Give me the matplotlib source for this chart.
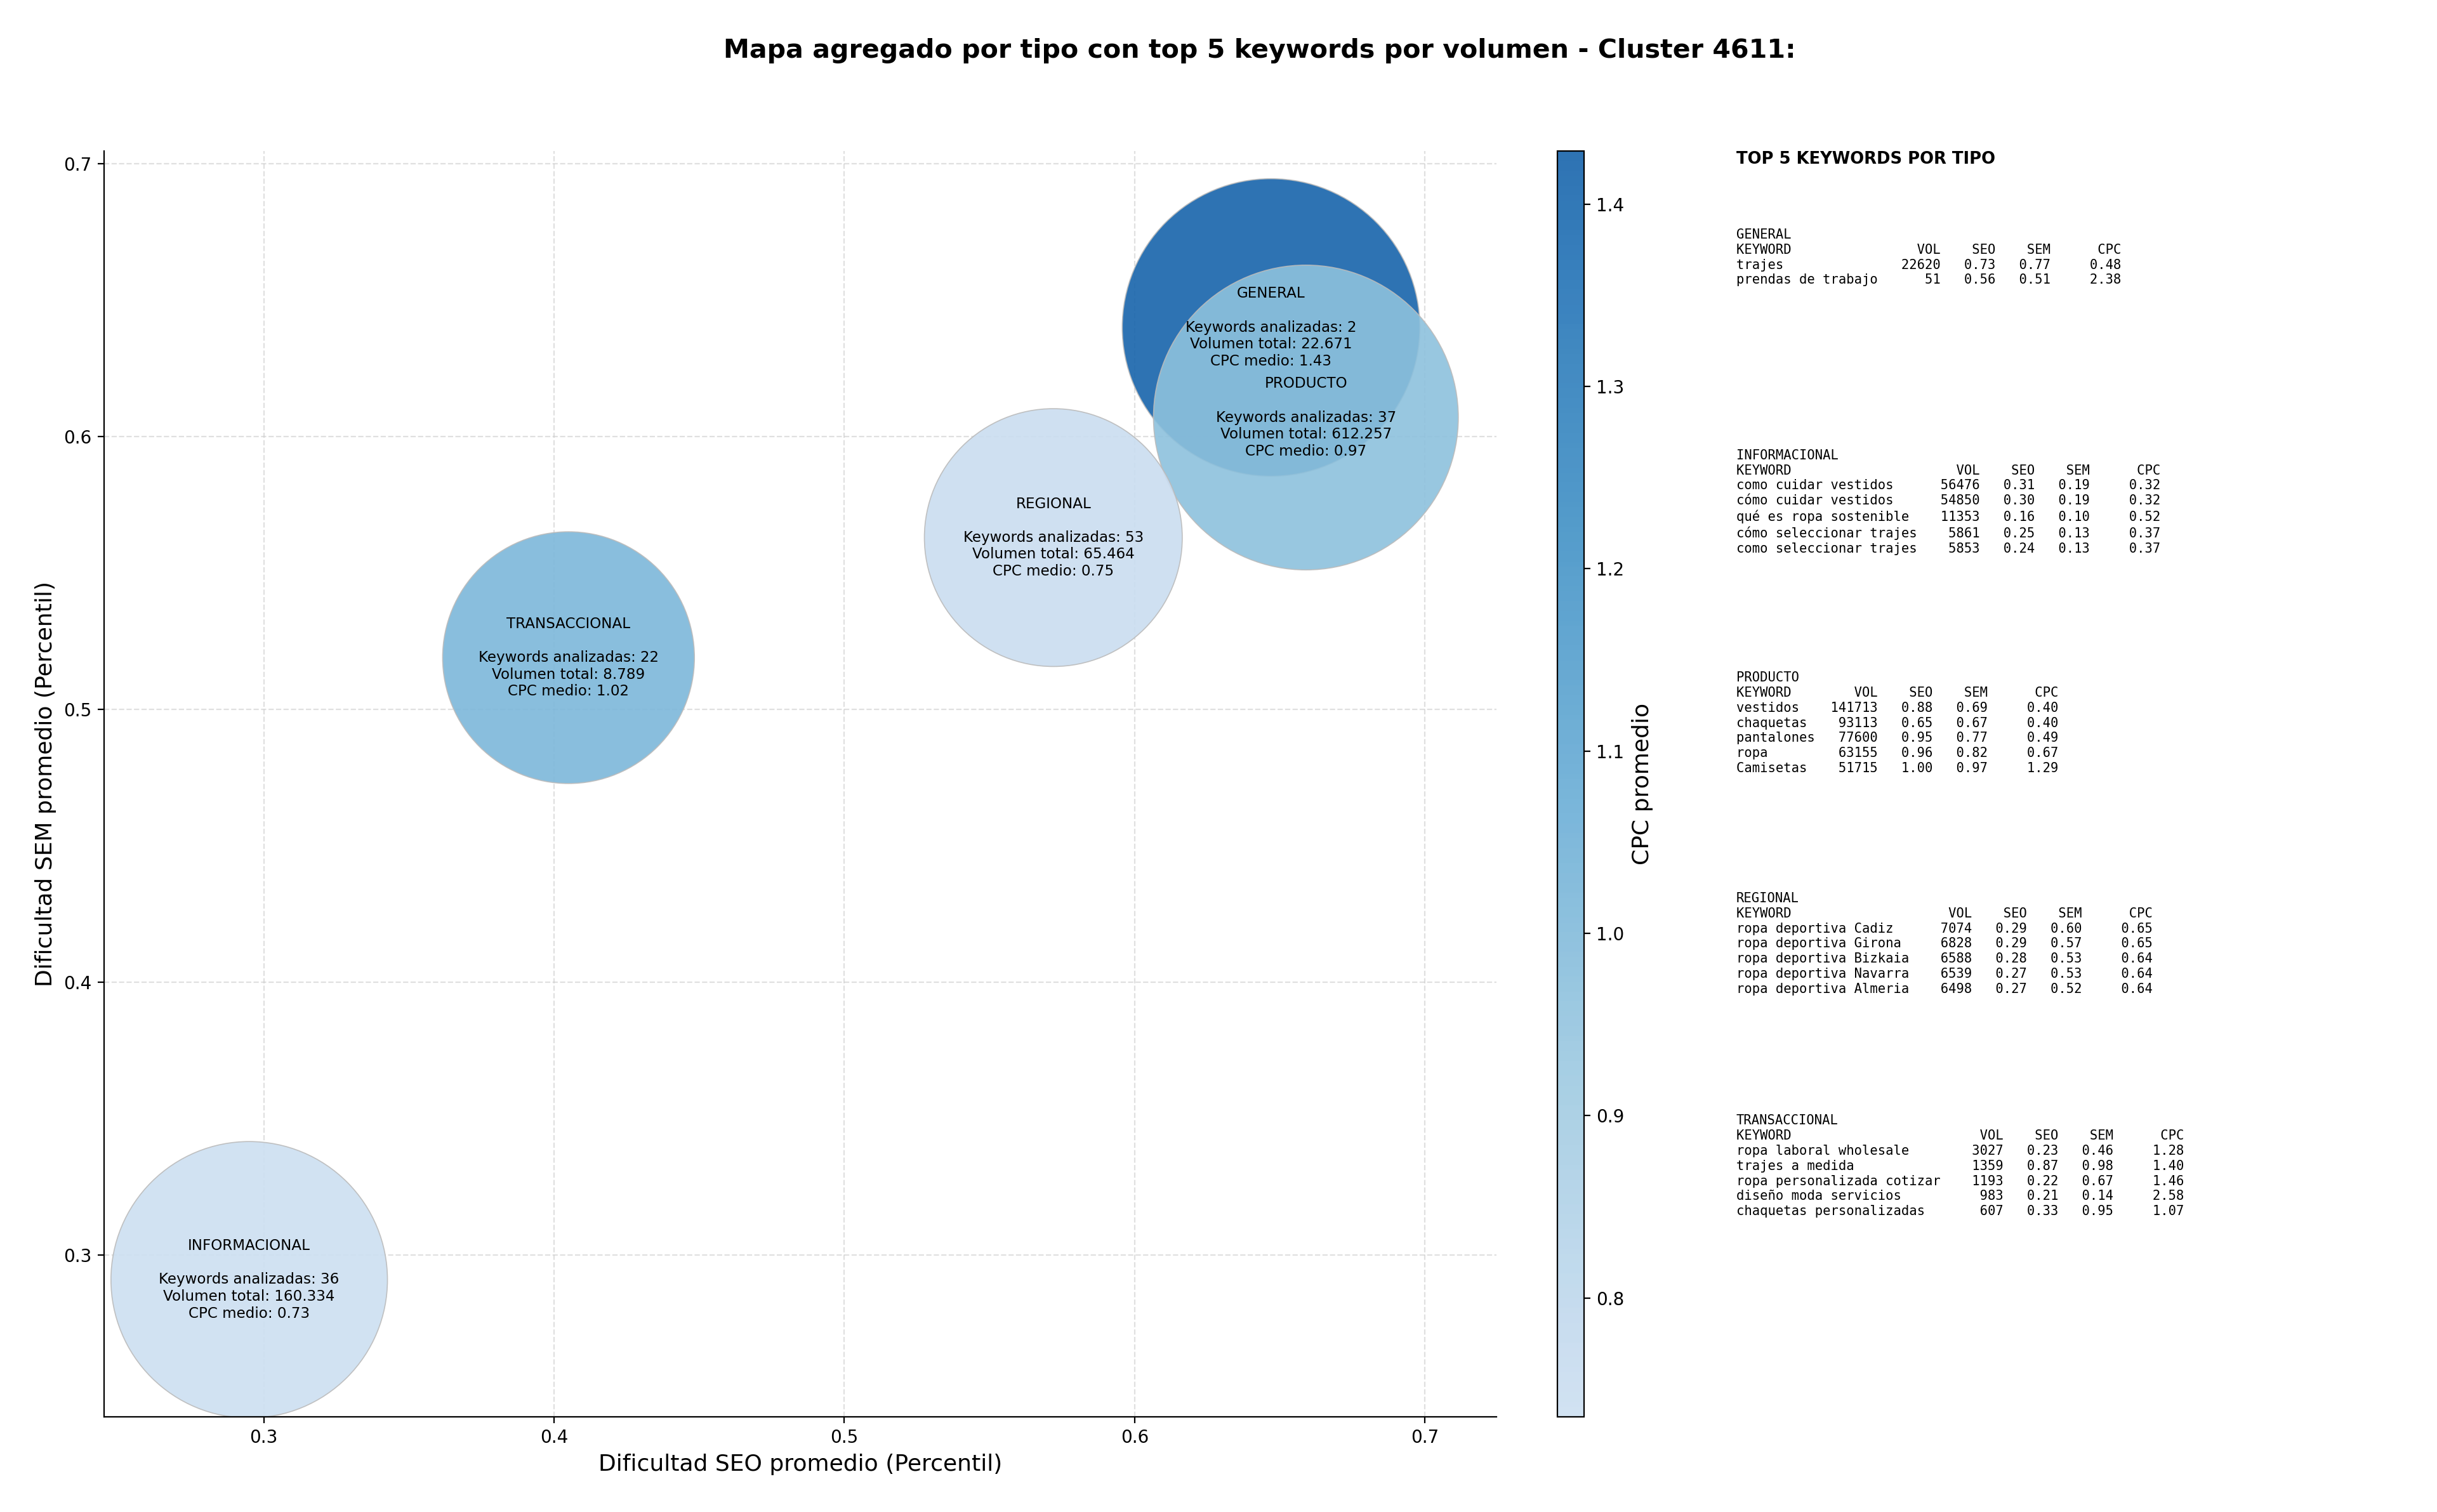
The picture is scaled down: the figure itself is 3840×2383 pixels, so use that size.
import numpy as np
import matplotlib
matplotlib.use('Agg')
import matplotlib.pyplot as plt
from matplotlib.colors import ListedColormap

# Datos agregados por tipo
tipos = ['GENERAL', 'INFORMACIONAL', 'PRODUCTO', 'REGIONAL', 'TRANSACCIONAL']
seo_medio = [0.647, 0.295, 0.659, 0.572, 0.405]
sem_medio = [0.640, 0.291, 0.607, 0.563, 0.519]
n_keywords = [2, 36, 37, 53, 22]
volumen_total = [22671, 160334, 612257, 65464, 8789]
cpc_medio = [1.429, 0.7348, 0.97, 0.75, 1.02]
tam_burbuja = [28500, 24600, 29900, 21400, 20400]

# Top 5 keywords por tipo
top_keywords = {
    'GENERAL': ['trajes', 'prendas de trabajo'],
    'INFORMACIONAL': ['como cuidar vestidos', 'cómo cuidar vestidos', 'qué es ropa sostenible',
                      'cómo seleccionar trajes', 'como seleccionar trajes'],
    'PRODUCTO': ['vestidos', 'chaquetas', 'pantalones', 'ropa', 'Camisetas'],
    'REGIONAL': ['ropa deportiva Cadiz', 'ropa deportiva Girona', 'ropa deportiva Bizkaia',
                 'ropa deportiva Navarra', 'ropa deportiva Almeria'],
    'TRANSACCIONAL': ['ropa laboral wholesale', 'trajes a medida', 'ropa personalizada cotizar',
                      'diseño moda servicios', 'chaquetas personalizadas'],
}
top_vol = {
    'GENERAL': [22620, 51],
    'INFORMACIONAL': [56476, 54850, 11353, 5861, 5853],
    'PRODUCTO': [141713, 93113, 77600, 63155, 51715],
    'REGIONAL': [7074, 6828, 6588, 6539, 6498],
    'TRANSACCIONAL': [3027, 1359, 1193, 983, 607],
}
top_seo = {
    'GENERAL': [0.73, 0.56],
    'INFORMACIONAL': [0.31, 0.30, 0.16, 0.25, 0.24],
    'PRODUCTO': [0.88, 0.65, 0.95, 0.96, 1.00],
    'REGIONAL': [0.29, 0.29, 0.28, 0.27, 0.27],
    'TRANSACCIONAL': [0.23, 0.87, 0.22, 0.21, 0.33],
}
top_sem = {
    'GENERAL': [0.77, 0.51],
    'INFORMACIONAL': [0.19, 0.19, 0.10, 0.13, 0.13],
    'PRODUCTO': [0.69, 0.67, 0.77, 0.82, 0.97],
    'REGIONAL': [0.60, 0.57, 0.53, 0.53, 0.52],
    'TRANSACCIONAL': [0.46, 0.98, 0.67, 0.14, 0.95],
}
top_cpc = {
    'GENERAL': [0.48, 2.38],
    'INFORMACIONAL': [0.32, 0.32, 0.52, 0.37, 0.37],
    'PRODUCTO': [0.40, 0.40, 0.49, 0.67, 1.29],
    'REGIONAL': [0.65, 0.65, 0.64, 0.64, 0.64],
    'TRANSACCIONAL': [1.28, 1.40, 1.46, 2.58, 1.07],
}

# Colormap azul recortado
cmap = ListedColormap(plt.cm.Blues(np.linspace(0.22, 0.80, 256)))

fig = plt.figure(figsize=(19.2, 11.915), dpi=200)
ax = fig.add_axes([0.0427, 0.063, 0.5713, 0.837])
cax = fig.add_axes([0.639, 0.063, 0.011, 0.837])

sc = ax.scatter(seo_medio, sem_medio, s=tam_burbuja, c=cpc_medio, cmap=cmap,
                alpha=0.9, edgecolors='#bbbbbb', linewidths=0.6, zorder=2)

for i, t in enumerate(tipos):
    etiqueta = (f"{t}\n\nKeywords analizadas: {n_keywords[i]}\n"
                f"Volumen total: {volumen_total[i]:,}\n"
                f"CPC medio: {cpc_medio[i]:.2f}").replace(',', '.')
    ax.text(seo_medio[i], sem_medio[i], etiqueta, ha='center', va='center',
            fontsize=8.3, zorder=5)

ax.set_xlim(0.245, 0.7246)
ax.set_ylim(0.2408, 0.7046)
ax.set_xticks([0.3, 0.4, 0.5, 0.6, 0.7])
ax.set_yticks([0.3, 0.4, 0.5, 0.6, 0.7])
ax.set_xlabel('Dificultad SEO promedio (Percentil)', fontsize=13)
ax.set_ylabel('Dificultad SEM promedio (Percentil)', fontsize=13)
ax.grid(True, linestyle='--', color='#cccccc', alpha=0.6, linewidth=0.8, zorder=0)
ax.set_axisbelow(True)
ax.spines['top'].set_visible(False)
ax.spines['right'].set_visible(False)

cbar = fig.colorbar(sc, cax=cax)
cbar.set_label('CPC promedio', fontsize=13, labelpad=4)

fig.suptitle('Mapa agregado por tipo con top 5 keywords por volumen - Cluster 4611:',
             fontsize=14.8, fontweight='bold', x=0.517, y=0.975)

# Panel de texto con las top keywords
fig.text(0.7125, 0.900, 'TOP 5 KEYWORDS POR TIPO', fontsize=9.3, fontweight='bold', va='top')
y_bloques = [0.849, 0.703, 0.556, 0.410, 0.263]
for t, y in zip(tipos, y_bloques):
    kws = top_keywords[t]
    w = max(len(k) for k in kws)
    lineas = [t, f"{'KEYWORD':<{w}}{'VOL':>8}{'SEO':>7}{'SEM':>7}{'CPC':>9}"]
    for k, v, s1, s2, c in zip(kws, top_vol[t], top_seo[t], top_sem[t], top_cpc[t]):
        lineas.append(f"{k:<{w}}{v:>8}{s1:>7.2f}{s2:>7.2f}{c:>9.2f}")
    fig.text(0.7125, y, '\n'.join(lineas), fontsize=7.4, family='DejaVu Sans Mono',
             va='top', linespacing=1.24)

fig.savefig('out.png', dpi=200)
